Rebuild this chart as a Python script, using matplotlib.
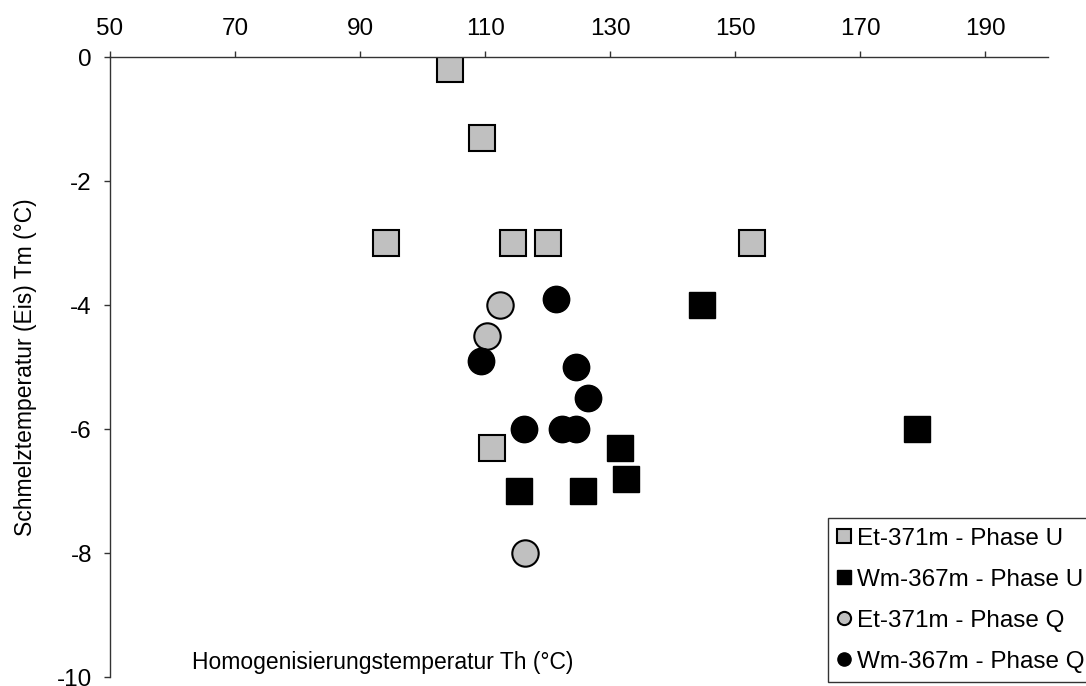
import matplotlib
matplotlib.use("Agg")
import matplotlib.pyplot as plt

plt.rcParams['font.family'] = ['Liberation Sans', 'DejaVu Sans']

# Th (°C) / Tm (°C) pairs per sample and phase
et_u_th = [104.4, 109.5, 94.2, 114.5, 120.1, 152.6, 111.1]
et_u_tm = [-0.2, -1.3, -3.0, -3.0, -3.0, -3.0, -6.3]

wm_u_th = [144.6, 179.0, 131.5, 132.5, 115.4, 125.6]
wm_u_tm = [-4.0, -6.0, -6.3, -6.8, -7.0, -7.0]

et_q_th = [112.4, 110.3, 116.4]
et_q_tm = [-4.0, -4.5, -8.0]

wm_q_th = [121.4, 109.4, 124.6, 126.5, 116.2, 122.3, 124.6]
wm_q_tm = [-3.9, -4.9, -5.0, -5.5, -6.0, -6.0, -6.0]

labels = ["Et-371m - Phase U", "Wm-367m - Phase U",
          "Et-371m - Phase Q", "Wm-367m - Phase Q"]

W, H = 1086, 686
fig = plt.figure(figsize=(W / 100, H / 100), dpi=100)
ax = fig.add_axes([110 / W, 1 - 677 / H, (1048 - 110) / W, (677 - 57) / H])

ms = 19
grey = "#C0C0C0"
ax.plot(et_u_th, et_u_tm, ls="none", marker="s", ms=ms, mfc=grey, mec="black", mew=1.5, label=labels[0])
ax.plot(wm_u_th, wm_u_tm, ls="none", marker="s", ms=ms, mfc="black", mec="black", mew=1.0, label=labels[1])
ax.plot(et_q_th, et_q_tm, ls="none", marker="o", ms=ms, mfc=grey, mec="black", mew=1.5, label=labels[2])
ax.plot(wm_q_th, wm_q_tm, ls="none", marker="o", ms=ms, mfc="black", mec="black", mew=1.0, label=labels[3])

ax.set_xlim(50, 200)
ax.set_ylim(-10, 0)
ax.set_xticks(range(50, 200, 20))
ax.set_yticks(range(-10, 1, 2))
ax.set_yticklabels([str(v) for v in range(-10, 1, 2)])

ax.xaxis.tick_top()
ax.spines["bottom"].set_visible(False)
ax.spines["right"].set_visible(False)
for s in ("top", "left"):
    ax.spines[s].set_linewidth(1.0)
    ax.spines[s].set_color("#333333")
ax.tick_params(axis="x", direction="out", length=4, width=1, pad=8, labelsize=17.5, color="#333333")
ax.tick_params(axis="y", direction="out", length=4, width=1, pad=9, labelsize=17.5, color="#333333")

ax.set_ylabel("Schmelztemperatur (Eis) Tm (°C)", fontsize=16.5, labelpad=14)
fig.text(192 / W, 1 - 663 / H, "Homogenisierungstemperatur Th (°C)", fontsize=16.5,
         ha="left", va="center")

leg = fig.legend(loc="upper left", bbox_to_anchor=(828 / W, 1 - 518 / H),
                 fontsize=17.5, markerscale=0.5, frameon=True, fancybox=False,
                 handlelength=0.5, handletextpad=0.3, labelspacing=0.78,
                 borderpad=0.4, borderaxespad=0)
leg.get_frame().set_edgecolor("black")
leg.get_frame().set_linewidth(1.0)

fig.savefig("out.png", dpi=100)
